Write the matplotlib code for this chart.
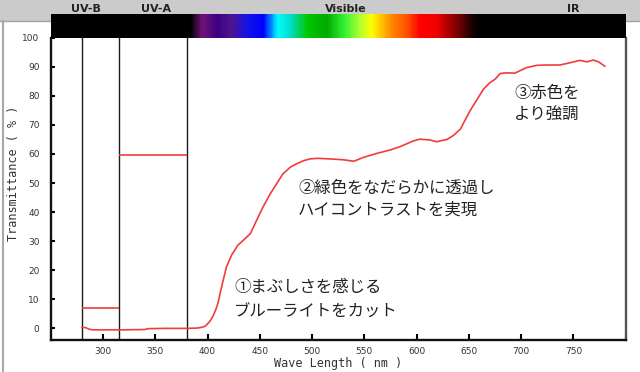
import numpy as np
import matplotlib
matplotlib.use('Agg')
import matplotlib.pyplot as plt
from matplotlib.colors import LinearSegmentedColormap
from matplotlib.patches import Rectangle
from matplotlib.lines import Line2D
import matplotlib.transforms as mtransforms

# transmittance curve
wave_nm = [280, 283, 287, 290, 300, 320, 340, 343, 360, 380, 390, 395, 398, 402, 405,
           408, 410, 412, 415, 418, 423, 429, 436, 441, 447, 453, 460, 466, 472, 479,
           485, 492, 498, 505, 517, 530, 540, 549, 562, 575, 584, 597, 603, 613, 619,
           629, 635, 642, 646, 651, 657, 664, 670, 675, 680, 686, 694, 705, 715, 725,
           737, 747, 756, 763, 769, 774, 780]
trans_pct = [0.3, 0.3, -0.3, -0.5, -0.5, -0.5, -0.4, -0.1, 0.0, 0.0, 0.1, 0.4, 0.8, 2.3, 4.0,
             6.5, 8.7, 12.0, 16.6, 21.0, 25.2, 28.6, 30.9, 32.6, 37.2, 41.7, 46.3, 49.7, 53.1, 55.4,
             56.6, 57.7, 58.3, 58.5, 58.3, 58.0, 57.5, 58.8, 60.2, 61.4, 62.5, 64.5, 65.1, 64.8, 64.2,
             65.0, 66.3, 68.6, 71.4, 74.8, 78.3, 82.3, 84.5, 85.7, 87.7, 87.9, 87.8, 89.7, 90.5, 90.6,
             90.6, 91.4, 92.2, 91.7, 92.3, 91.7, 90.2]

# band boundaries and the flat levels drawn in them
band_edges = [280, 315, 380]
uvb_range = [280, 315]
uvb_level = 7.1
uva_range = [315, 380]
uva_level = 59.5

# spectrum bar colour stops (nm, colour)
spec_nm = [250, 383, 394, 409, 422, 437, 453, 467, 479, 495, 514, 530, 546, 557,
           575, 591, 603, 619, 638, 654, 660, 800]
spec_col = ['#000000', '#000000', '#6e1478', '#3c0082', '#501490', '#1414e6', '#0000ff',
            '#00ffff', '#00dcc8', '#00c800', '#00aa00', '#32f032', '#b4ff32', '#ffff00',
            '#ff8c00', '#ff5000', '#ff0000', '#f00000', '#820000', '#140000', '#000000',
            '#000000']

header_labels = ['UV-B', 'UV-A', 'Visible', 'IR']
header_x = [284, 350.6, 532.6, 750.3]

notes = [
    (425.4, [14.2, 5.65], ['①まぶしさを感じる', 'ブルーライトをカット']),
    (486.7, [48.1, 40.6], ['②緑色をなだらかに透過し', 'ハイコントラストを実現']),
    (693.4, [81.0, 73.4], ['③赤色を', 'より強調']),
]

xticks = list(range(250, 801, 50))
xticklabels = ['' if v in (250, 800) else str(v) for v in xticks]
yticks = list(range(0, 101, 10))

fig = plt.figure(figsize=(6.4, 3.72), dpi=100)
fig.patch.set_facecolor('white')

# grey title band and frame lines
band_y = (372 - 21) / 372
fig.patches.append(Rectangle((0, band_y), 1, 1 - band_y, transform=fig.transFigure,
                             facecolor='#cbcbcb', edgecolor='none', zorder=0))
fig.lines.append(Line2D([0, 1], [band_y, band_y], transform=fig.transFigure,
                        color='#a2a2a2', lw=1.0))
fig.lines.append(Line2D([2.5 / 640, 2.5 / 640], [0, band_y], transform=fig.transFigure,
                        color='#a8a8a8', lw=1.5))

left = 50.7 / 640
width = (625.7 - 50.7) / 640
bottom = (372 - 340) / 372
top = (372 - 37.7) / 372
ax = fig.add_axes([left, bottom, width, top - bottom])
bar_ax = fig.add_axes([left, top, width, (37.7 - 14.3) / 372], zorder=3)

# spectrum bar
spec_pos = [(v - 250) / 550 for v in spec_nm]
cmap = LinearSegmentedColormap.from_list('spec', list(zip(spec_pos, spec_col)), N=512)
bar_ax.imshow(np.linspace(0, 1, 600)[None, :], cmap=cmap, aspect='auto',
              extent=[250, 800, 0, 1], interpolation='bilinear')
bar_ax.set_xlim(250, 800)
bar_ax.set_axis_off()

# main plot
for edge in band_edges:
    ax.axvline(edge, color='#1a1a1a', lw=1.0, zorder=2)
ax.hlines(uvb_level, uvb_range[0], uvb_range[1], color='#f03c3c', lw=1.2, zorder=3)
ax.hlines(uva_level, uva_range[0], uva_range[1], color='#f03c3c', lw=1.2, zorder=3)
ax.plot(wave_nm, trans_pct, color='#f03c3c', lw=1.2, zorder=3)

ax.set_xlim(250, 800)
ax.set_ylim(-4, 100)
ax.set_xticks(xticks)
ax.set_xticklabels(xticklabels)
ax.set_yticks(yticks)
ax.tick_params(axis='x', direction='in', length=4, width=1.5, pad=5, labelsize=6.5,
               labelcolor='#333333')
ax.tick_params(axis='y', direction='in', length=3, width=1.5, pad=8, labelsize=6.5,
               labelcolor='#333333')
for s in ['left', 'bottom', 'right']:
    ax.spines[s].set_linewidth(1.7)
    ax.spines[s].set_color('#111111')
ax.spines['right'].set_color('#555555')
ax.spines['top'].set_visible(False)

ax.set_xlabel('Wave Length ( nm )', family='DejaVu Sans Mono', fontsize=8.5,
              color='#333333', labelpad=1)
ax.set_ylabel('Transmittance ( % )', family='DejaVu Sans Mono', fontsize=8.5,
              color='#333333')
ax.yaxis.set_label_coords(-0.054, 0.55)

for x, ys, lines in notes:
    for y, line in zip(ys, lines):
        ax.text(x, y, line, family=['Noto Sans CJK JP', 'DejaVu Sans'], fontsize=11.8,
                color='#222222', va='center', ha='left', zorder=4)

trans = mtransforms.blended_transform_factory(ax.transData, fig.transFigure)
for lab, x in zip(header_labels, header_x):
    fig.text(x, 1 - 8.5 / 372, lab, transform=trans, ha='center', va='center',
             fontsize=8, fontweight='bold', color='#222222', zorder=5)

fig.savefig('out.png', dpi=100)
